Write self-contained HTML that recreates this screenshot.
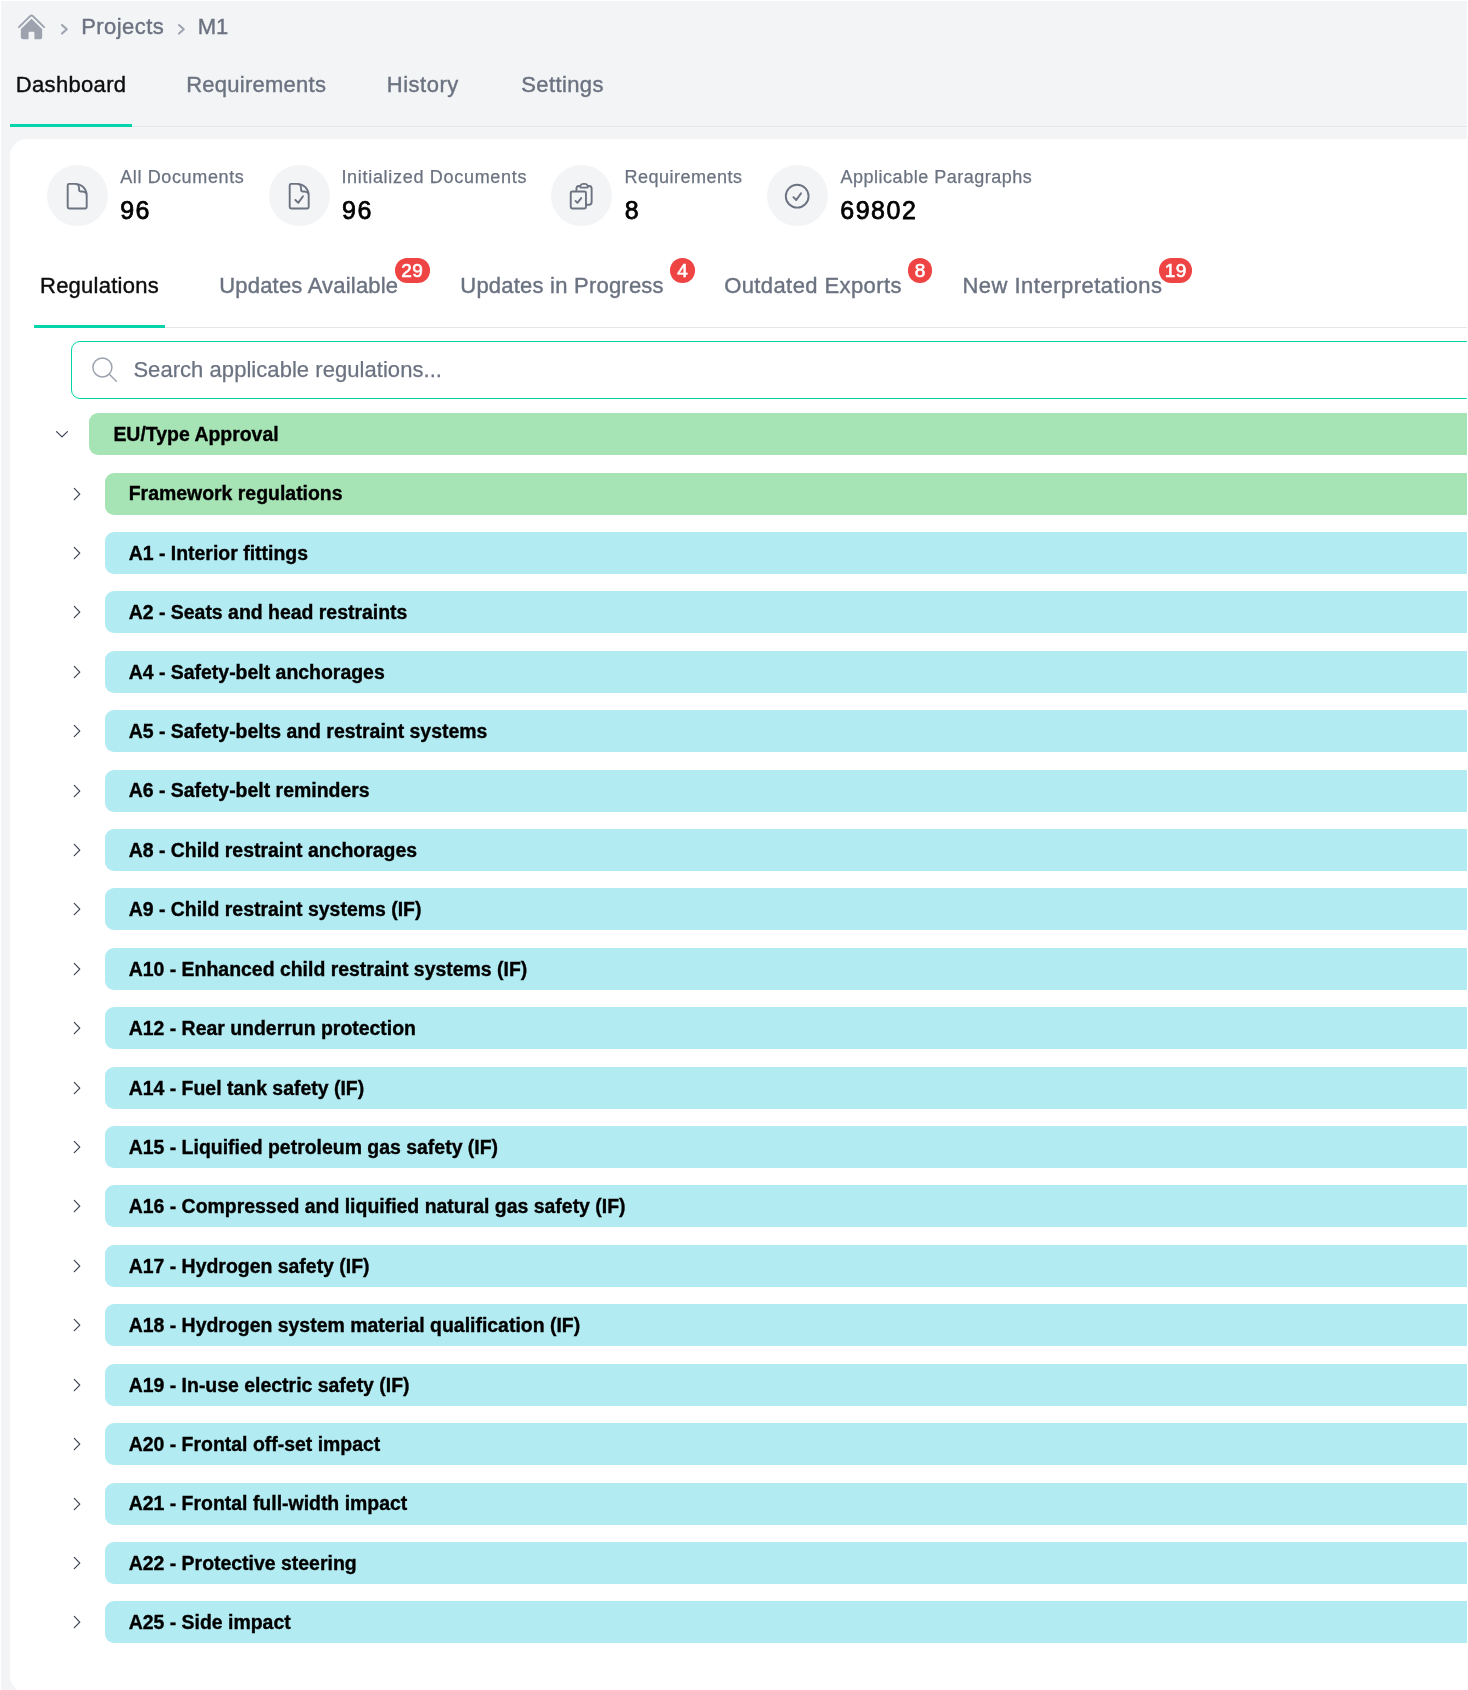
<!DOCTYPE html>
<html><head><meta charset="utf-8">
<style>
*{box-sizing:border-box;margin:0;padding:0}
html,body{width:1468px;height:1690px;overflow:hidden}
body{background:#f3f4f6;font-family:"Liberation Sans",Arial,sans-serif;position:relative;color:#111827}
.a{position:absolute;white-space:nowrap;line-height:1}
.crumb{font-size:22px;color:#6b7280;-webkit-text-stroke:0.4px #6b7280}
.nav{font-size:22px;color:#6b7280;-webkit-text-stroke:0.4px #6b7280}
.nav.on{color:#0d0d0d;-webkit-text-stroke:0.4px #0d0d0d}
.card{position:absolute;left:10px;top:139.4px;width:1500px;height:1553.6px;background:#fff;border-radius:17px}
.circ{position:absolute;width:60.5px;height:60.5px;border-radius:50%;background:#f3f4f6}
.lbl{font-size:18px;color:#6b7280;letter-spacing:0.5px;-webkit-text-stroke:0.25px #6b7280}
.num{font-size:25px;color:#000;letter-spacing:1.5px;-webkit-text-stroke:0.75px #000}
.tab{font-size:22px;color:#6b7280;-webkit-text-stroke:0.4px #6b7280}
.tab.on{color:#0d0d0d;-webkit-text-stroke:0.4px #0d0d0d}
.badge{position:absolute;height:24.5px;border-radius:12.25px;background:#ef4444;color:#fff;font-size:19px;line-height:26.2px;letter-spacing:0.4px;text-indent:0.4px;text-align:center;top:258.2px;-webkit-text-stroke:0.6px #fff}
.row{position:absolute;height:42px;border-radius:9px;right:-40px}
.g{background:#a6e4b6}
.c{background:#b2ebf2}
.rt{position:absolute;font-size:19.45px;font-weight:700;color:#000;line-height:1;white-space:nowrap;-webkit-text-stroke:0.35px #000}
.chev{position:absolute;width:14px;height:14px}
</style></head><body><div id="root" style="position:absolute;left:0;top:0;width:1468px;height:1690px;will-change:transform">

<!-- breadcrumb -->
<svg class="a" style="left:16px;top:11.9px" width="31" height="30.2" viewBox="0 0 24 24" preserveAspectRatio="none" fill="#9ca3af"><path d="M11.47 3.841a.75.75 0 0 1 1.06 0l8.69 8.69a.75.75 0 1 0 1.06-1.061l-8.689-8.69a2.25 2.25 0 0 0-3.182 0l-8.69 8.69a.75.75 0 1 0 1.061 1.06l8.69-8.689Z"/><path d="m12 5.432 8.159 8.159c.03.03.06.058.091.086v6.198c0 1.035-.84 1.875-1.875 1.875H15a.75.75 0 0 1-.75-.75v-4.5a.75.75 0 0 0-.75-.75h-3a.75.75 0 0 0-.75.75V21a.75.75 0 0 1-.75.75H5.625a1.875 1.875 0 0 1-1.875-1.875v-6.198a2.29 2.29 0 0 0 .091-.086L12 5.432Z"/></svg>
<svg class="a" style="left:58px;top:20px" width="14" height="18" viewBox="0 0 14 18"><path d="M4 5 L8.8 9.3 L4 13.6" fill="none" stroke="#9ca3af" stroke-width="2" stroke-linecap="round" stroke-linejoin="round"/></svg>
<div class="a crumb" style="left:81.2px;top:16.1px;letter-spacing:0.43px">Projects</div>
<svg class="a" style="left:175.2px;top:20px" width="14" height="18" viewBox="0 0 14 18"><path d="M4 5 L8.8 9.3 L4 13.6" fill="none" stroke="#9ca3af" stroke-width="2" stroke-linecap="round" stroke-linejoin="round"/></svg>
<div class="a crumb" style="left:197.8px;top:16.1px">M1</div>

<!-- top nav -->
<div class="a nav on" style="left:15.8px;top:73.7px;letter-spacing:0.33px">Dashboard</div>
<div class="a nav" style="left:186.2px;top:73.7px;letter-spacing:0.25px">Requirements</div>
<div class="a nav" style="left:386.8px;top:73.7px;letter-spacing:0.5px">History</div>
<div class="a nav" style="left:521.2px;top:73.7px;letter-spacing:0.39px">Settings</div>
<div class="a" style="left:10px;top:125.7px;width:1457px;height:1.7px;background:#e5e7eb"></div>
<div class="a" style="left:10px;top:124.1px;width:122px;height:3.3px;background:#04d4a9"></div>

<div class="card"></div>

<!-- stats -->
<div class="circ" style="left:47px;top:165.3px"></div>
<div class="circ" style="left:269.2px;top:165.3px"></div>
<div class="circ" style="left:551.3px;top:165.3px"></div>
<div class="circ" style="left:767px;top:165.3px"></div>

<svg class="a" style="left:61.8px;top:180.7px" width="30.4" height="30.4" viewBox="0 0 24 24" fill="none" stroke="#6b7280" stroke-width="1.5" stroke-linecap="round" stroke-linejoin="round"><path d="M19.5 14.25v-2.625a3.375 3.375 0 0 0-3.375-3.375h-1.5A1.125 1.125 0 0 1 13.5 7.125v-1.5a3.375 3.375 0 0 0-3.375-3.375H8.25m2.25 0H5.625c-.621 0-1.125.504-1.125 1.125v17.25c0 .621.504 1.125 1.125 1.125h12.75c.621 0 1.125-.504 1.125-1.125V11.25a9 9 0 0 0-9-9Z"/></svg>
<svg class="a" style="left:284.0px;top:180.9px" width="30.4" height="30.4" viewBox="0 0 24 24" fill="none" stroke="#6b7280" stroke-width="1.5" stroke-linecap="round" stroke-linejoin="round"><path d="M10.125 2.25h-4.5c-.621 0-1.125.504-1.125 1.125v17.25c0 .621.504 1.125 1.125 1.125h12.75c.621 0 1.125-.504 1.125-1.125v-9M10.125 2.25h.375a9 9 0 0 1 9 9v.375M10.125 2.25A3.375 3.375 0 0 1 13.5 5.625v1.5c0 .621.504 1.125 1.125 1.125h1.5a3.375 3.375 0 0 1 3.375 3.375M9 15l2.25 2.25L15 12"/></svg>
<svg class="a" style="left:565.8px;top:180.8px" width="30.4" height="30.4" viewBox="0 0 24 24" fill="none" stroke="#6b7280" stroke-width="1.5" stroke-linecap="round" stroke-linejoin="round"><path d="M11.35 3.836c-.065.21-.1.433-.1.664 0 .414.336.75.75.75h4.5a.75.75 0 0 0 .75-.75 2.25 2.25 0 0 0-.1-.664m-5.8 0A2.251 2.251 0 0 1 13.5 2.25H15c1.012 0 1.867.668 2.15 1.586m-5.8 0c-.376.023-.75.05-1.124.08C9.095 4.01 8.25 4.973 8.25 6.108V8.25m8.9-4.414c.376.023.75.05 1.124.08 1.131.094 1.976 1.057 1.976 2.192V16.5A2.25 2.25 0 0 1 18 18.75h-2.25m-7.5-10.5H4.875c-.621 0-1.125.504-1.125 1.125v11.25c0 .621.504 1.125 1.125 1.125h9.75c.621 0 1.125-.504 1.125-1.125V18.75m-7.5-10.5h6.375c.621 0 1.125.504 1.125 1.125v9.375m-8.25-3 1.5 1.5 3-3.75"/></svg>
<svg class="a" style="left:782.0px;top:180.7px" width="30.4" height="30.4" viewBox="0 0 24 24" fill="none" stroke="#6b7280" stroke-width="1.5" stroke-linecap="round" stroke-linejoin="round"><path d="M9 12.75 11.25 15 15 9.75M21 12a9 9 0 1 1-18 0 9 9 0 0 1 18 0Z"/></svg>
<div class="a lbl" style="left:120.2px;top:168px;letter-spacing:0.63px">All Documents</div>
<div class="a lbl" style="left:341.4px;top:168px;letter-spacing:0.7px">Initialized Documents</div>
<div class="a lbl" style="left:624.4px;top:168px">Requirements</div>
<div class="a lbl" style="left:840.6px;top:168px">Applicable Paragraphs</div>
<div class="a num" style="left:120.2px;top:198.0px">96</div>
<div class="a num" style="left:342.1px;top:198.0px">96</div>
<div class="a num" style="left:624.8px;top:198.0px">8</div>
<div class="a num" style="left:840.3px;top:198.0px">69802</div>

<!-- card tabs -->
<div class="a tab on" style="left:40px;top:274.9px;letter-spacing:0.25px">Regulations</div>
<div class="a tab" style="left:219.2px;top:274.9px;letter-spacing:0.2px">Updates Available</div>
<div class="a tab" style="left:460.3px;top:274.9px;letter-spacing:0.22px">Updates in Progress</div>
<div class="a tab" style="left:724.2px;top:274.9px;letter-spacing:0.4px">Outdated Exports</div>
<div class="a tab" style="left:962.4px;top:274.9px;letter-spacing:0.49px">New Interpretations</div>
<div class="badge" style="left:394.5px;width:35px">29</div>
<div class="badge" style="left:670.3px;width:24.5px">4</div>
<div class="badge" style="left:907.8px;width:24.5px">8</div>
<div class="badge" style="left:1159.4px;width:32.5px">19</div>
<div class="a" style="left:34px;top:327.1px;width:1433px;height:1.4px;background:#e5e7eb"></div>
<div class="a" style="left:34.4px;top:325.2px;width:130.4px;height:3.3px;background:#04d4a9"></div>

<!-- search -->
<div class="a" style="left:70.9px;top:340.5px;width:1420px;height:58px;border:1.7px solid #04d4a9;border-radius:9px;background:#fff"></div>
<svg class="a" style="left:90px;top:355px" width="30" height="30" viewBox="0 0 30 30"><circle cx="12.4" cy="12.4" r="9.5" fill="none" stroke="#9ca3af" stroke-width="1.5"/><path d="M19.3 19.3 L26.3 26.3" stroke="#9ca3af" stroke-width="1.5" stroke-linecap="round"/></svg>
<div class="a" style="left:133.4px;top:359.2px;font-size:22px;color:#6b7280;letter-spacing:0.05px;-webkit-text-stroke:0.25px #6b7280">Search applicable regulations...</div>

<!-- tree -->
<!--TREE-->
<div class="row g" style="left:89px;top:413.10px"></div>
<div class="rt" style="left:113.4px;top:425.00px">EU/Type Approval</div>
<svg class="chev" style="left:55px;top:427.10px" viewBox="0 0 14 14"><path d="M1.5 4.6 L7 9.9 L12.4 4.6" fill="none" stroke="#3b4250" stroke-width="1.2" stroke-linecap="round" stroke-linejoin="round"/></svg>
<div class="row g" style="left:104.7px;top:472.52px"></div>
<div class="rt" style="left:128.7px;top:484.42px">Framework regulations</div>
<svg class="chev" style="left:70px;top:486.52px" viewBox="0 0 14 14"><path d="M4.3 1.4 L9.8 7.05 L4.3 12.7" fill="none" stroke="#3b4250" stroke-width="1.2" stroke-linecap="round" stroke-linejoin="round"/></svg>
<div class="row c" style="left:104.7px;top:531.93px"></div>
<div class="rt" style="left:128.7px;top:543.83px">A1 - Interior fittings</div>
<svg class="chev" style="left:70px;top:545.93px" viewBox="0 0 14 14"><path d="M4.3 1.4 L9.8 7.05 L4.3 12.7" fill="none" stroke="#3b4250" stroke-width="1.2" stroke-linecap="round" stroke-linejoin="round"/></svg>
<div class="row c" style="left:104.7px;top:591.35px"></div>
<div class="rt" style="left:128.7px;top:603.25px">A2 - Seats and head restraints</div>
<svg class="chev" style="left:70px;top:605.35px" viewBox="0 0 14 14"><path d="M4.3 1.4 L9.8 7.05 L4.3 12.7" fill="none" stroke="#3b4250" stroke-width="1.2" stroke-linecap="round" stroke-linejoin="round"/></svg>
<div class="row c" style="left:104.7px;top:650.76px"></div>
<div class="rt" style="left:128.7px;top:662.66px">A4 - Safety-belt anchorages</div>
<svg class="chev" style="left:70px;top:664.76px" viewBox="0 0 14 14"><path d="M4.3 1.4 L9.8 7.05 L4.3 12.7" fill="none" stroke="#3b4250" stroke-width="1.2" stroke-linecap="round" stroke-linejoin="round"/></svg>
<div class="row c" style="left:104.7px;top:710.17px"></div>
<div class="rt" style="left:128.7px;top:722.07px">A5 - Safety-belts and restraint systems</div>
<svg class="chev" style="left:70px;top:724.17px" viewBox="0 0 14 14"><path d="M4.3 1.4 L9.8 7.05 L4.3 12.7" fill="none" stroke="#3b4250" stroke-width="1.2" stroke-linecap="round" stroke-linejoin="round"/></svg>
<div class="row c" style="left:104.7px;top:769.59px"></div>
<div class="rt" style="left:128.7px;top:781.49px">A6 - Safety-belt reminders</div>
<svg class="chev" style="left:70px;top:783.59px" viewBox="0 0 14 14"><path d="M4.3 1.4 L9.8 7.05 L4.3 12.7" fill="none" stroke="#3b4250" stroke-width="1.2" stroke-linecap="round" stroke-linejoin="round"/></svg>
<div class="row c" style="left:104.7px;top:829.00px"></div>
<div class="rt" style="left:128.7px;top:840.90px">A8 - Child restraint anchorages</div>
<svg class="chev" style="left:70px;top:843.00px" viewBox="0 0 14 14"><path d="M4.3 1.4 L9.8 7.05 L4.3 12.7" fill="none" stroke="#3b4250" stroke-width="1.2" stroke-linecap="round" stroke-linejoin="round"/></svg>
<div class="row c" style="left:104.7px;top:888.42px"></div>
<div class="rt" style="left:128.7px;top:900.32px">A9 - Child restraint systems (IF)</div>
<svg class="chev" style="left:70px;top:902.42px" viewBox="0 0 14 14"><path d="M4.3 1.4 L9.8 7.05 L4.3 12.7" fill="none" stroke="#3b4250" stroke-width="1.2" stroke-linecap="round" stroke-linejoin="round"/></svg>
<div class="row c" style="left:104.7px;top:947.84px"></div>
<div class="rt" style="left:128.7px;top:959.74px">A10 - Enhanced child restraint systems (IF)</div>
<svg class="chev" style="left:70px;top:961.84px" viewBox="0 0 14 14"><path d="M4.3 1.4 L9.8 7.05 L4.3 12.7" fill="none" stroke="#3b4250" stroke-width="1.2" stroke-linecap="round" stroke-linejoin="round"/></svg>
<div class="row c" style="left:104.7px;top:1007.25px"></div>
<div class="rt" style="left:128.7px;top:1019.15px">A12 - Rear underrun protection</div>
<svg class="chev" style="left:70px;top:1021.25px" viewBox="0 0 14 14"><path d="M4.3 1.4 L9.8 7.05 L4.3 12.7" fill="none" stroke="#3b4250" stroke-width="1.2" stroke-linecap="round" stroke-linejoin="round"/></svg>
<div class="row c" style="left:104.7px;top:1066.66px"></div>
<div class="rt" style="left:128.7px;top:1078.57px">A14 - Fuel tank safety (IF)</div>
<svg class="chev" style="left:70px;top:1080.66px" viewBox="0 0 14 14"><path d="M4.3 1.4 L9.8 7.05 L4.3 12.7" fill="none" stroke="#3b4250" stroke-width="1.2" stroke-linecap="round" stroke-linejoin="round"/></svg>
<div class="row c" style="left:104.7px;top:1126.08px"></div>
<div class="rt" style="left:128.7px;top:1137.98px">A15 - Liquified petroleum gas safety (IF)</div>
<svg class="chev" style="left:70px;top:1140.08px" viewBox="0 0 14 14"><path d="M4.3 1.4 L9.8 7.05 L4.3 12.7" fill="none" stroke="#3b4250" stroke-width="1.2" stroke-linecap="round" stroke-linejoin="round"/></svg>
<div class="row c" style="left:104.7px;top:1185.49px"></div>
<div class="rt" style="left:128.7px;top:1197.39px">A16 - Compressed and liquified natural gas safety (IF)</div>
<svg class="chev" style="left:70px;top:1199.49px" viewBox="0 0 14 14"><path d="M4.3 1.4 L9.8 7.05 L4.3 12.7" fill="none" stroke="#3b4250" stroke-width="1.2" stroke-linecap="round" stroke-linejoin="round"/></svg>
<div class="row c" style="left:104.7px;top:1244.91px"></div>
<div class="rt" style="left:128.7px;top:1256.81px">A17 - Hydrogen safety (IF)</div>
<svg class="chev" style="left:70px;top:1258.91px" viewBox="0 0 14 14"><path d="M4.3 1.4 L9.8 7.05 L4.3 12.7" fill="none" stroke="#3b4250" stroke-width="1.2" stroke-linecap="round" stroke-linejoin="round"/></svg>
<div class="row c" style="left:104.7px;top:1304.33px"></div>
<div class="rt" style="left:128.7px;top:1316.23px">A18 - Hydrogen system material qualification (IF)</div>
<svg class="chev" style="left:70px;top:1318.33px" viewBox="0 0 14 14"><path d="M4.3 1.4 L9.8 7.05 L4.3 12.7" fill="none" stroke="#3b4250" stroke-width="1.2" stroke-linecap="round" stroke-linejoin="round"/></svg>
<div class="row c" style="left:104.7px;top:1363.74px"></div>
<div class="rt" style="left:128.7px;top:1375.64px">A19 - In-use electric safety (IF)</div>
<svg class="chev" style="left:70px;top:1377.74px" viewBox="0 0 14 14"><path d="M4.3 1.4 L9.8 7.05 L4.3 12.7" fill="none" stroke="#3b4250" stroke-width="1.2" stroke-linecap="round" stroke-linejoin="round"/></svg>
<div class="row c" style="left:104.7px;top:1423.15px"></div>
<div class="rt" style="left:128.7px;top:1435.06px">A20 - Frontal off-set impact</div>
<svg class="chev" style="left:70px;top:1437.15px" viewBox="0 0 14 14"><path d="M4.3 1.4 L9.8 7.05 L4.3 12.7" fill="none" stroke="#3b4250" stroke-width="1.2" stroke-linecap="round" stroke-linejoin="round"/></svg>
<div class="row c" style="left:104.7px;top:1482.57px"></div>
<div class="rt" style="left:128.7px;top:1494.47px">A21 - Frontal full-width impact</div>
<svg class="chev" style="left:70px;top:1496.57px" viewBox="0 0 14 14"><path d="M4.3 1.4 L9.8 7.05 L4.3 12.7" fill="none" stroke="#3b4250" stroke-width="1.2" stroke-linecap="round" stroke-linejoin="round"/></svg>
<div class="row c" style="left:104.7px;top:1541.99px"></div>
<div class="rt" style="left:128.7px;top:1553.89px">A22 - Protective steering</div>
<svg class="chev" style="left:70px;top:1555.99px" viewBox="0 0 14 14"><path d="M4.3 1.4 L9.8 7.05 L4.3 12.7" fill="none" stroke="#3b4250" stroke-width="1.2" stroke-linecap="round" stroke-linejoin="round"/></svg>
<div class="row c" style="left:104.7px;top:1601.40px"></div>
<div class="rt" style="left:128.7px;top:1613.30px">A25 - Side impact</div>
<svg class="chev" style="left:70px;top:1615.40px" viewBox="0 0 14 14"><path d="M4.3 1.4 L9.8 7.05 L4.3 12.7" fill="none" stroke="#3b4250" stroke-width="1.2" stroke-linecap="round" stroke-linejoin="round"/></svg>
<!--/TREE-->

<div class="a" style="left:0;top:0;width:1468px;height:1px;background:#fff"></div>
<div class="a" style="left:0;top:0;width:1px;height:1690px;background:#fff"></div>
<div class="a" style="left:1467px;top:0;width:1px;height:1690px;background:#fff"></div>
</div></body></html>
